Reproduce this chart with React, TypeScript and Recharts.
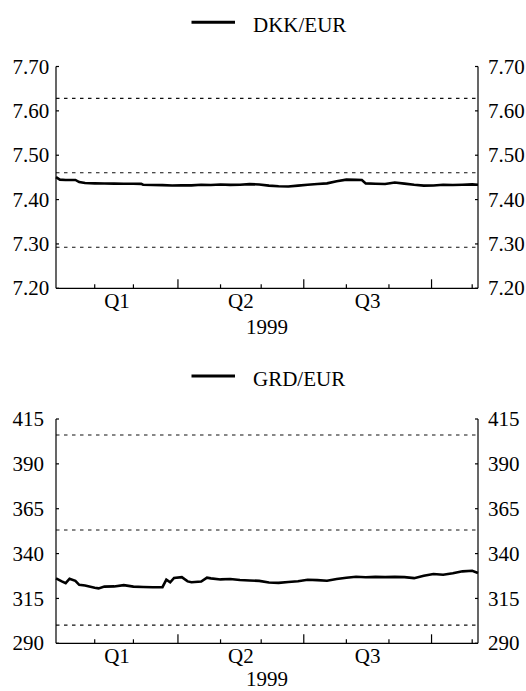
import React from "react";
import {
  Label,
  Legend,
  Line,
  LineChart,
  ReferenceLine,
  XAxis,
  YAxis,
} from "recharts";

const FONT = "'Liberation Serif', 'DejaVu Serif', serif";
const txt = { fontFamily: FONT, fontSize: 21 };

// business-day index from 4 Jan 1999
const monthStarts = [20, 40, 63, 85, 106, 128, 150, 172, 194, 215];
const quarterStarts = [63, 128, 194];
const quarterMids = [31.5, 95.5, 161];
const quarterLabels = ["Q1", "Q2", "Q3"];
const yearLabel = "1999";

const dkkDays = [
  0, 2, 5, 10, 12, 15, 20, 25, 30, 35, 40, 44, 45, 50, 55, 60, 65, 70, 75, 80,
  85, 90, 95, 100, 105, 110, 115, 120, 125, 130, 135, 140, 145, 150, 155, 158,
  160, 165, 170, 175, 180, 185, 190, 195, 200, 205, 210, 215, 218,
];
const dkkRates = [
  7.4505, 7.445, 7.444, 7.4442, 7.4395, 7.4372, 7.4365, 7.4362, 7.436, 7.4358,
  7.4356, 7.4355, 7.4335, 7.433, 7.4325, 7.4318, 7.4322, 7.432, 7.4335, 7.433,
  7.434, 7.4332, 7.4335, 7.4348, 7.434, 7.4315, 7.43, 7.4295, 7.4315, 7.4335,
  7.435, 7.4365, 7.4415, 7.445, 7.4445, 7.444, 7.4365, 7.4358, 7.435, 7.4385,
  7.436, 7.4335, 7.4315, 7.4318, 7.4335, 7.4328, 7.4335, 7.4342, 7.4335,
];
const dkkBands = [7.62824, 7.46038, 7.29252];
const dkkTicks = [7.2, 7.3, 7.4, 7.5, 7.6, 7.7];

const grdDays = [
  0, 3, 5, 7, 10, 12, 15, 20, 22, 25, 30, 35, 40, 45, 50, 55, 57, 59, 61, 65,
  68, 70, 75, 78, 80, 85, 90, 95, 100, 105, 110, 115, 120, 125, 130, 135, 140,
  145, 150, 155, 160, 165, 170, 175, 180, 185, 190, 195, 200, 205, 210, 215,
  218,
];
const grdRates = [
  326.2, 324.5, 323.5, 326.0, 324.8, 322.6, 322.2, 321.0, 320.6, 321.6, 321.7,
  322.4, 321.6, 321.4, 321.2, 321.3, 325.5, 324.0, 326.4, 326.9, 324.5, 324.0,
  324.4, 326.6, 326.2, 325.6, 325.8, 325.3, 325.0, 324.8, 323.9, 323.7, 324.2,
  324.6, 325.4, 325.2, 324.9, 325.8, 326.5, 327.1, 326.8, 327.0, 326.9, 327.0,
  326.9, 326.3, 327.6, 328.6, 328.2, 329.0, 330.1, 330.4, 329.2,
];
const grdBands = [406.08, 353.11, 300.14];
const grdTicks = [290, 315, 340, 365, 390, 415];

const XTick = (props: any) => {
  const { x, y, payload } = props;
  const v = payload.value;
  const qi = quarterMids.indexOf(v);
  if (qi >= 0) {
    return (
      <text x={x} y={y + 20} textAnchor="middle" style={txt} fill="#000">
        {quarterLabels[qi]}
      </text>
    );
  }
  const len = quarterStarts.includes(v) ? 9 : 4;
  return <line x1={x} x2={x} y1={y} y2={y - len} stroke="#000" strokeWidth={1.2} />;
};

const YTick = (props: any) => {
  const { x, y, payload, side, digits } = props;
  const left = side === "left";
  return (
    <g>
      <line x1={x} x2={left ? x + 3 : x - 3} y1={y} y2={y} stroke="#000" strokeWidth={1.2} />
      <text
        x={left ? x - 43.5 : x + 10}
        y={y}
        dy="0.34em"
        textAnchor="start"
        style={txt}
        fill="#000"
      >
        {payload.value.toFixed(digits)}
      </text>
    </g>
  );
};

type PanelProps = {
  name: string;
  days: number[];
  rates: number[];
  bands: number[];
  ticks: number[];
  digits: number;
  height: number;
  top: number;
  plotH: number;
  yearDy: number;
  legendY: number;
};

function Panel({ name, days, rates, bands, ticks, digits, height, top, plotH, yearDy, legendY }: PanelProps) {
  const data = days.map((d, i) => ({ day: d, rate: rates[i] }));
  const domain = [ticks[0], ticks[ticks.length - 1]];
  return (
    <LineChart
      width={526}
      height={height}
      data={data}
      margin={{ top, right: 0, bottom: 0, left: 0 }}
      style={{ fontFamily: FONT }}
    >
      <Legend
        verticalAlign="middle"
        align="center"
        wrapperStyle={{ top: 0, left: 0, width: 526, height: 50 }}
        content={() => (
          <svg width={526} height={50}>
            <line x1={191.5} x2={235} y1={legendY} y2={legendY} stroke="#000" strokeWidth={3} />
            <text x={253} y={legendY + 9.5} style={txt} fill="#000">
              {name}
            </text>
          </svg>
        )}
      />
      <XAxis
        type="number"
        dataKey="day"
        domain={[0, 218]}
        ticks={[...monthStarts, ...quarterMids]}
        interval={0}
        tickLine={false}
        tickSize={0}
        tickMargin={0}
        tick={(p: any) => <XTick {...p} />}
        axisLine={{ stroke: "#000", strokeWidth: 1.2 }}
        height={height - top - plotH}
      >
        <Label
          content={(p: any) => {
            const vb = p.viewBox;
            return (
              <text
                x={vb.x + vb.width / 2}
                y={vb.y + yearDy}
                textAnchor="middle"
                style={txt}
                fill="#000"
              >
                {yearLabel}
              </text>
            );
          }}
        />
      </XAxis>
      <YAxis
        yAxisId="left"
        type="number"
        domain={domain}
        ticks={ticks}
        allowDataOverflow
        width={56}
        tickLine={false}
        tickSize={0}
        tickMargin={0}
        interval={0}
        tick={(p: any) => <YTick {...p} side="left" digits={digits} />}
        axisLine={{ stroke: "#000", strokeWidth: 1.2 }}
      />
      <YAxis
        yAxisId="right"
        orientation="right"
        type="number"
        domain={domain}
        ticks={ticks}
        allowDataOverflow
        width={48}
        tickLine={false}
        tickSize={0}
        tickMargin={0}
        interval={0}
        tick={(p: any) => <YTick {...p} side="right" digits={digits} />}
        axisLine={{ stroke: "#000", strokeWidth: 1.2 }}
      />
      {bands.map((b) => (
        <ReferenceLine
          key={b}
          yAxisId="left"
          y={b}
          stroke="#111"
          strokeWidth={1.1}
          strokeDasharray="3.5 4.5"
        />
      ))}
      <Line
        yAxisId="left"
        type="linear"
        dataKey="rate"
        stroke="#000"
        strokeWidth={2.6}
        dot={false}
        isAnimationActive={false}
      />
    </LineChart>
  );
}

export default function App() {
  return (
    <div style={{ position: "absolute", left: 0, top: 0, width: 526, height: 691, background: "#fff", fontFamily: FONT }}>
      <Panel
        name="DKK/EUR"
        days={dkkDays}
        rates={dkkRates}
        bands={dkkBands}
        ticks={dkkTicks}
        digits={2}
        height={340}
        top={66.5}
        plotH={221.8}
        yearDy={46}
        legendY={22.3}
      />
      <Panel
        name="GRD/EUR"
        days={grdDays}
        rates={grdRates}
        bands={grdBands}
        ticks={grdTicks}
        digits={0}
        height={351}
        top={79}
        plotH={224.3}
        yearDy={42.5}
        legendY={36}
      />
    </div>
  );
}
